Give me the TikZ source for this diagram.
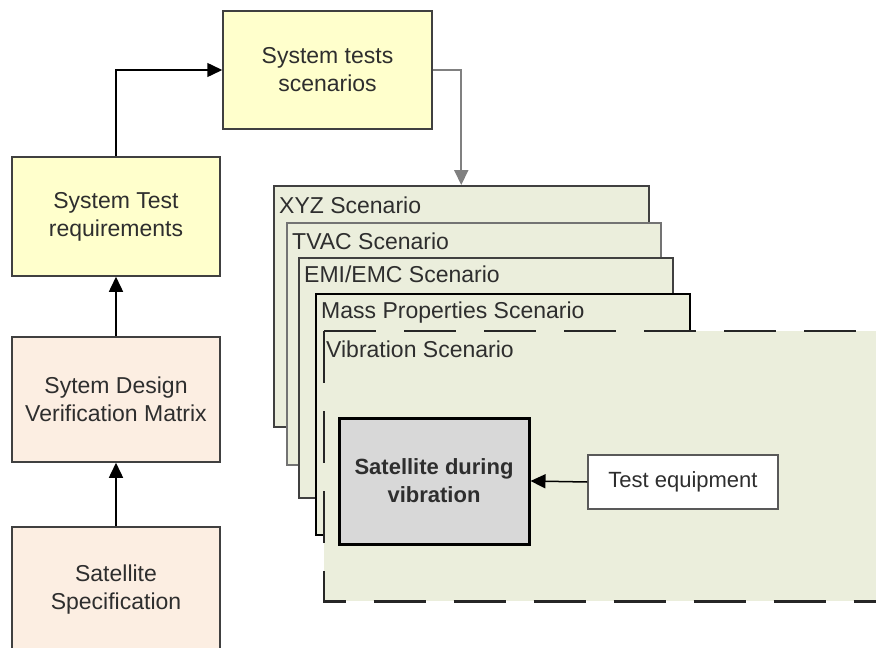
\documentclass[tikz,border=0pt]{standalone}
\usepackage{fontspec}
\setmainfont{Liberation Sans}
\usetikzlibrary{arrows.meta}
\definecolor{yel}{HTML}{FFFFCC}
\definecolor{peach}{HTML}{FCEEE2}
\definecolor{scenfill}{HTML}{EBEEDC}
\definecolor{satgray}{HTML}{D8D8D8}
\definecolor{txt}{HTML}{2E2E2E}
\begin{document}
\begin{tikzpicture}[x=1pt,y=-1pt,
  box/.style={draw=black!75, line width=1.5pt, align=center, text=txt,
    font=\fontsize{23}{28}\selectfont, inner sep=0pt},
  scenbox/.style={draw=black!75, line width=1.5pt, fill=scenfill, anchor=north west, inner sep=0pt},
  lbl/.style={text=txt, font=\fontsize{23}{28}\selectfont, anchor=base west, inner sep=0pt},
  vibdash/.style={line width=2.4pt, draw=black!85, dash pattern=on 52pt off 28pt},
  arr/.style={line width=1.5pt, -{Triangle[length=15pt,width=14pt]}}]
\clip (0,0) rectangle (876,648);
\fill[white] (0,0) rectangle (876,648);
% left column
\node[box, fill=yel, minimum width=209, minimum height=118] (sts) at (327.5,70) {System tests\\scenarios};
\node[box, fill=yel, minimum width=208, minimum height=119] (str) at (116,216.5) {System Test\\requirements};
\node[box, fill=peach, minimum width=208, minimum height=125] (sdvm) at (116,399.5) {Sytem Design\\Verification Matrix};
\node[box, fill=peach, minimum width=208, minimum height=126] (spec) at (116,590) {Satellite\\Specification};
% scenario stack
\node[scenbox, minimum width=375, minimum height=241] (xyz) at (273,185) {};
\node[lbl] (xyzl) at (279,213) {XYZ Scenario};
\node[scenbox, draw=black!55, minimum width=374, minimum height=242] (tvac) at (286,222) {};
\node[lbl] (tvacl) at (292,249) {TVAC Scenario};
\node[scenbox, minimum width=374, minimum height=240] (emi) at (298,257) {};
\node[lbl] (emil) at (304,282) {EMI/EMC Scenario};
\node[scenbox, draw=black, minimum width=374, minimum height=241] (mass) at (315,293) {};
\node[lbl] (massl) at (321,318) {Mass Properties Scenario};
\node[fill=scenfill, anchor=north west, inner sep=0pt, minimum width=600, minimum height=270] (vib) at (324,331) {};
\draw[vibdash] (vib.north west) -- (vib.north east);
\draw[vibdash] (vib.north west) -- (vib.south west) -- (vib.south east);
\node[lbl] (vibl) at (326,357) {Vibration Scenario};
\node[box, draw=black, line width=3pt, fill=satgray, minimum width=190, minimum height=126,
  font=\fontsize{22}{28}\selectfont\bfseries] (sat) at (434,481) {Satellite during\\vibration};
\node[box, draw=black!65, fill=white, minimum width=190, minimum height=54,
  font=\fontsize{22}{28}\selectfont] (test) at (683,482) {Test equipment};
% connectors
\draw[arr] (spec.north) -- (sdvm.south);
\draw[arr] (sdvm.north) -- (str.south);
\draw[arr] (str.north) |- (sts.west);
\draw[arr, draw=black!50, line width=2pt] (sts.east) -| (xyz.north);
\draw[arr] (test.west) -- (sat.east);
\end{tikzpicture}
\end{document}
